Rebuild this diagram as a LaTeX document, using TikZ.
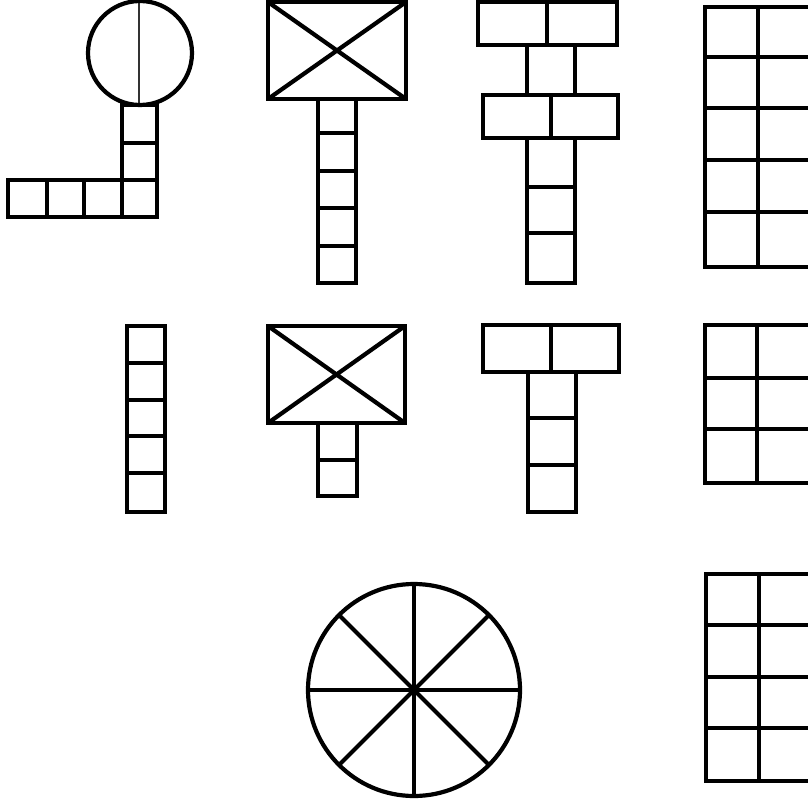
\documentclass[tikz,border=0pt]{standalone}
\usetikzlibrary{calc}
\begin{document}
\begin{tikzpicture}[x=1bp,y=-1bp,
  outline/.style={draw=black, line width=4.2bp, line join=miter},
  fineline/.style={draw=black!80, line width=2.2bp}]
\useasboundingbox (0,0) rectangle (808,800);
\clip (0,0) rectangle (808,800);
% figure 1: circle on an L of squares
\draw[fineline] (139,2) -- (139,105);
\draw[outline] (140,53) circle (52);
\draw[outline] (122,105) rectangle (157,217);
\draw[outline] (122,143) -- (157,143) (122,180) -- (157,180);
\draw[outline] (8,180) rectangle (157,217);
\draw[outline] (47,180) -- (47,217) (84,180) -- (84,217);
% figure 2: crossed box on a column of five
\draw[outline] (268,2) rectangle (406,99);
\draw[outline] (268,2) -- (406,99) (268,99) -- (406,2);
\draw[outline] (318,99) rectangle (356,283);
\foreach \y in {133,171,208,246} \draw[outline] (318,\y) -- (356,\y);
% figure 3: two double boxes on a column
\draw[outline] (478,2) rectangle (617,45);
\draw[outline] (547,2) -- (547,45);
\draw[outline] (527,45) rectangle (575,95);
\draw[outline] (483,95) rectangle (618,138);
\draw[outline] (551,95) -- (551,138);
\draw[outline] (527,138) rectangle (575,283);
\draw[outline] (527,187) -- (575,187) (527,233) -- (575,233);
% figure 4: grid, cut at the right edge
\draw[outline] (705,7) rectangle (812,267);
\draw[outline] (758,7) -- (758,267);
\foreach \y in {57,108,160,212} \draw[outline] (705,\y) -- (812,\y);
% figure 5: column of five
\draw[outline] (127,326) rectangle (165,512);
\foreach \y in {363,400,436,473} \draw[outline] (127,\y) -- (165,\y);
% figure 6: crossed box on a column of two
\draw[outline] (268,326) rectangle (405,423);
\draw[outline] (268,326) -- (405,423) (268,423) -- (405,326);
\draw[outline] (318,423) rectangle (357,496);
\draw[outline] (318,460) -- (357,460);
% figure 7: double box on a column of three
\draw[outline] (483,325) rectangle (619,372);
\draw[outline] (551,325) -- (551,372);
\draw[outline] (528,372) rectangle (576,512);
\draw[outline] (528,418) -- (576,418) (528,465) -- (576,465);
% figure 8: grid of three rows
\draw[outline] (705,325) rectangle (812,483);
\draw[outline] (757,325) -- (757,483);
\draw[outline] (705,378) -- (812,378) (705,429) -- (812,429);
% figure 9: wheel with eight spokes
\coordinate (hub) at (414,690);
\draw[outline] (hub) circle (106);
\foreach \a in {0,45,90,135} \draw[outline] ($(hub)+(\a:106)$) -- ($(hub)+(\a+180:106)$);
% figure 10: grid of four rows
\draw[outline] (706,574) rectangle (812,781);
\draw[outline] (759,574) -- (759,781);
\foreach \y in {625,677,728} \draw[outline] (706,\y) -- (812,\y);
\end{tikzpicture}
\end{document}
